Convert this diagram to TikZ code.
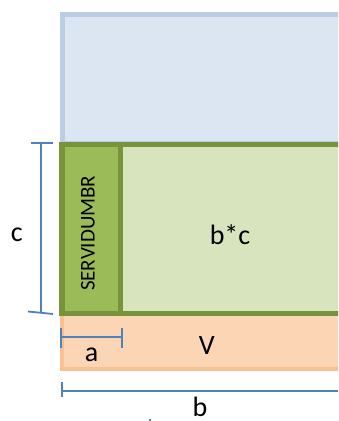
\documentclass[tikz,border=0pt]{standalone}
\usepackage{fontspec}
\setmainfont{Carlito}
\definecolor{skyfill}{HTML}{DCE6F2}
\definecolor{skyline}{HTML}{B9CDE5}
\definecolor{leaffill}{HTML}{D7E4BD}
\definecolor{leafdark}{HTML}{9BBB59}
\definecolor{leafline}{HTML}{77933C}
\definecolor{peachfill}{HTML}{FCD5B5}
\definecolor{peachline}{HTML}{FAC090}
\definecolor{dimblue}{HTML}{4F81BD}
\tikzset{
  dimline/.style={draw=dimblue, line width=1.8pt},
  lbl/.style={inner sep=0pt, font=\fontsize{28}{30}\selectfont},
}
\begin{document}
\begin{tikzpicture}[x=1pt,y=1pt]
\useasboundingbox (0,0) rectangle (338,421);
\clip (0,0) rectangle (338,421);
% upper strip
\draw[fill=skyfill, draw=skyline, line width=5pt] (62.5,277) rectangle (350,406.5);
% lower strip
\draw[fill=peachfill, draw=peachline, line width=3.5pt] (62,52) rectangle (350,107.5);
% middle band with the servidumbre strip
\fill[leaffill] (62,107.5) rectangle (350,276.5);
\fill[leafdark] (62,107.5) rectangle (120.5,276.5);
\draw[leafline, line width=5.5pt] (62,107.5) rectangle (350,276.5);
\draw[leafline, line width=5.5pt] (120.5,107.5) -- (120.5,276.5);
\node[inner sep=0pt, rotate=90, font=\fontsize{21}{23}\selectfont] (serv) at (88,187.7) {SERVIDUMBR};
\node[lbl] (area) at (230,186) {b*c};
\node[lbl] (vlab) at (206.7,75.3) {V};
% dimension c
\coordinate (ctop) at (40.7,278);
\coordinate (cbot) at (40.7,108);
\coordinate (ctl) at (30.7,278);
\coordinate (ctr) at (52.7,278);
\coordinate (cbl) at (28,109.5);
\coordinate (cbr) at (53,107);
\draw[dimline] (ctop) -- (cbot);
\draw[dimline] (ctl) -- (ctr);
\draw[dimline] (cbl) -- (cbr);
\node[lbl] (clab) at (16.7,186) {c};
% dimension a
\coordinate (aleft) at (61,83.7);
\coordinate (aright) at (122,83.7);
\coordinate (alt) at (61,93.3);
\coordinate (alb) at (61,73.3);
\coordinate (art) at (122,93.3);
\coordinate (arb) at (122,73.3);
\draw[dimline] (aleft) -- (aright);
\draw[dimline] (alt) -- (alb);
\draw[dimline] (art) -- (arb);
\node[lbl] (alab) at (91.7,66) {a};
% dimension b
\coordinate (bleft) at (62,30.3);
\coordinate (bright) at (350,30.3);
\coordinate (blt) at (62,39.3);
\coordinate (blb) at (62,23.7);
\draw[dimline] (bleft) -- (bright);
\draw[dimline] (blt) -- (blb);
\node[lbl] (blab) at (200,14) {b};
% stray dot
\fill[dimblue] (149,0) rectangle (151,2);
\end{tikzpicture}
\end{document}
